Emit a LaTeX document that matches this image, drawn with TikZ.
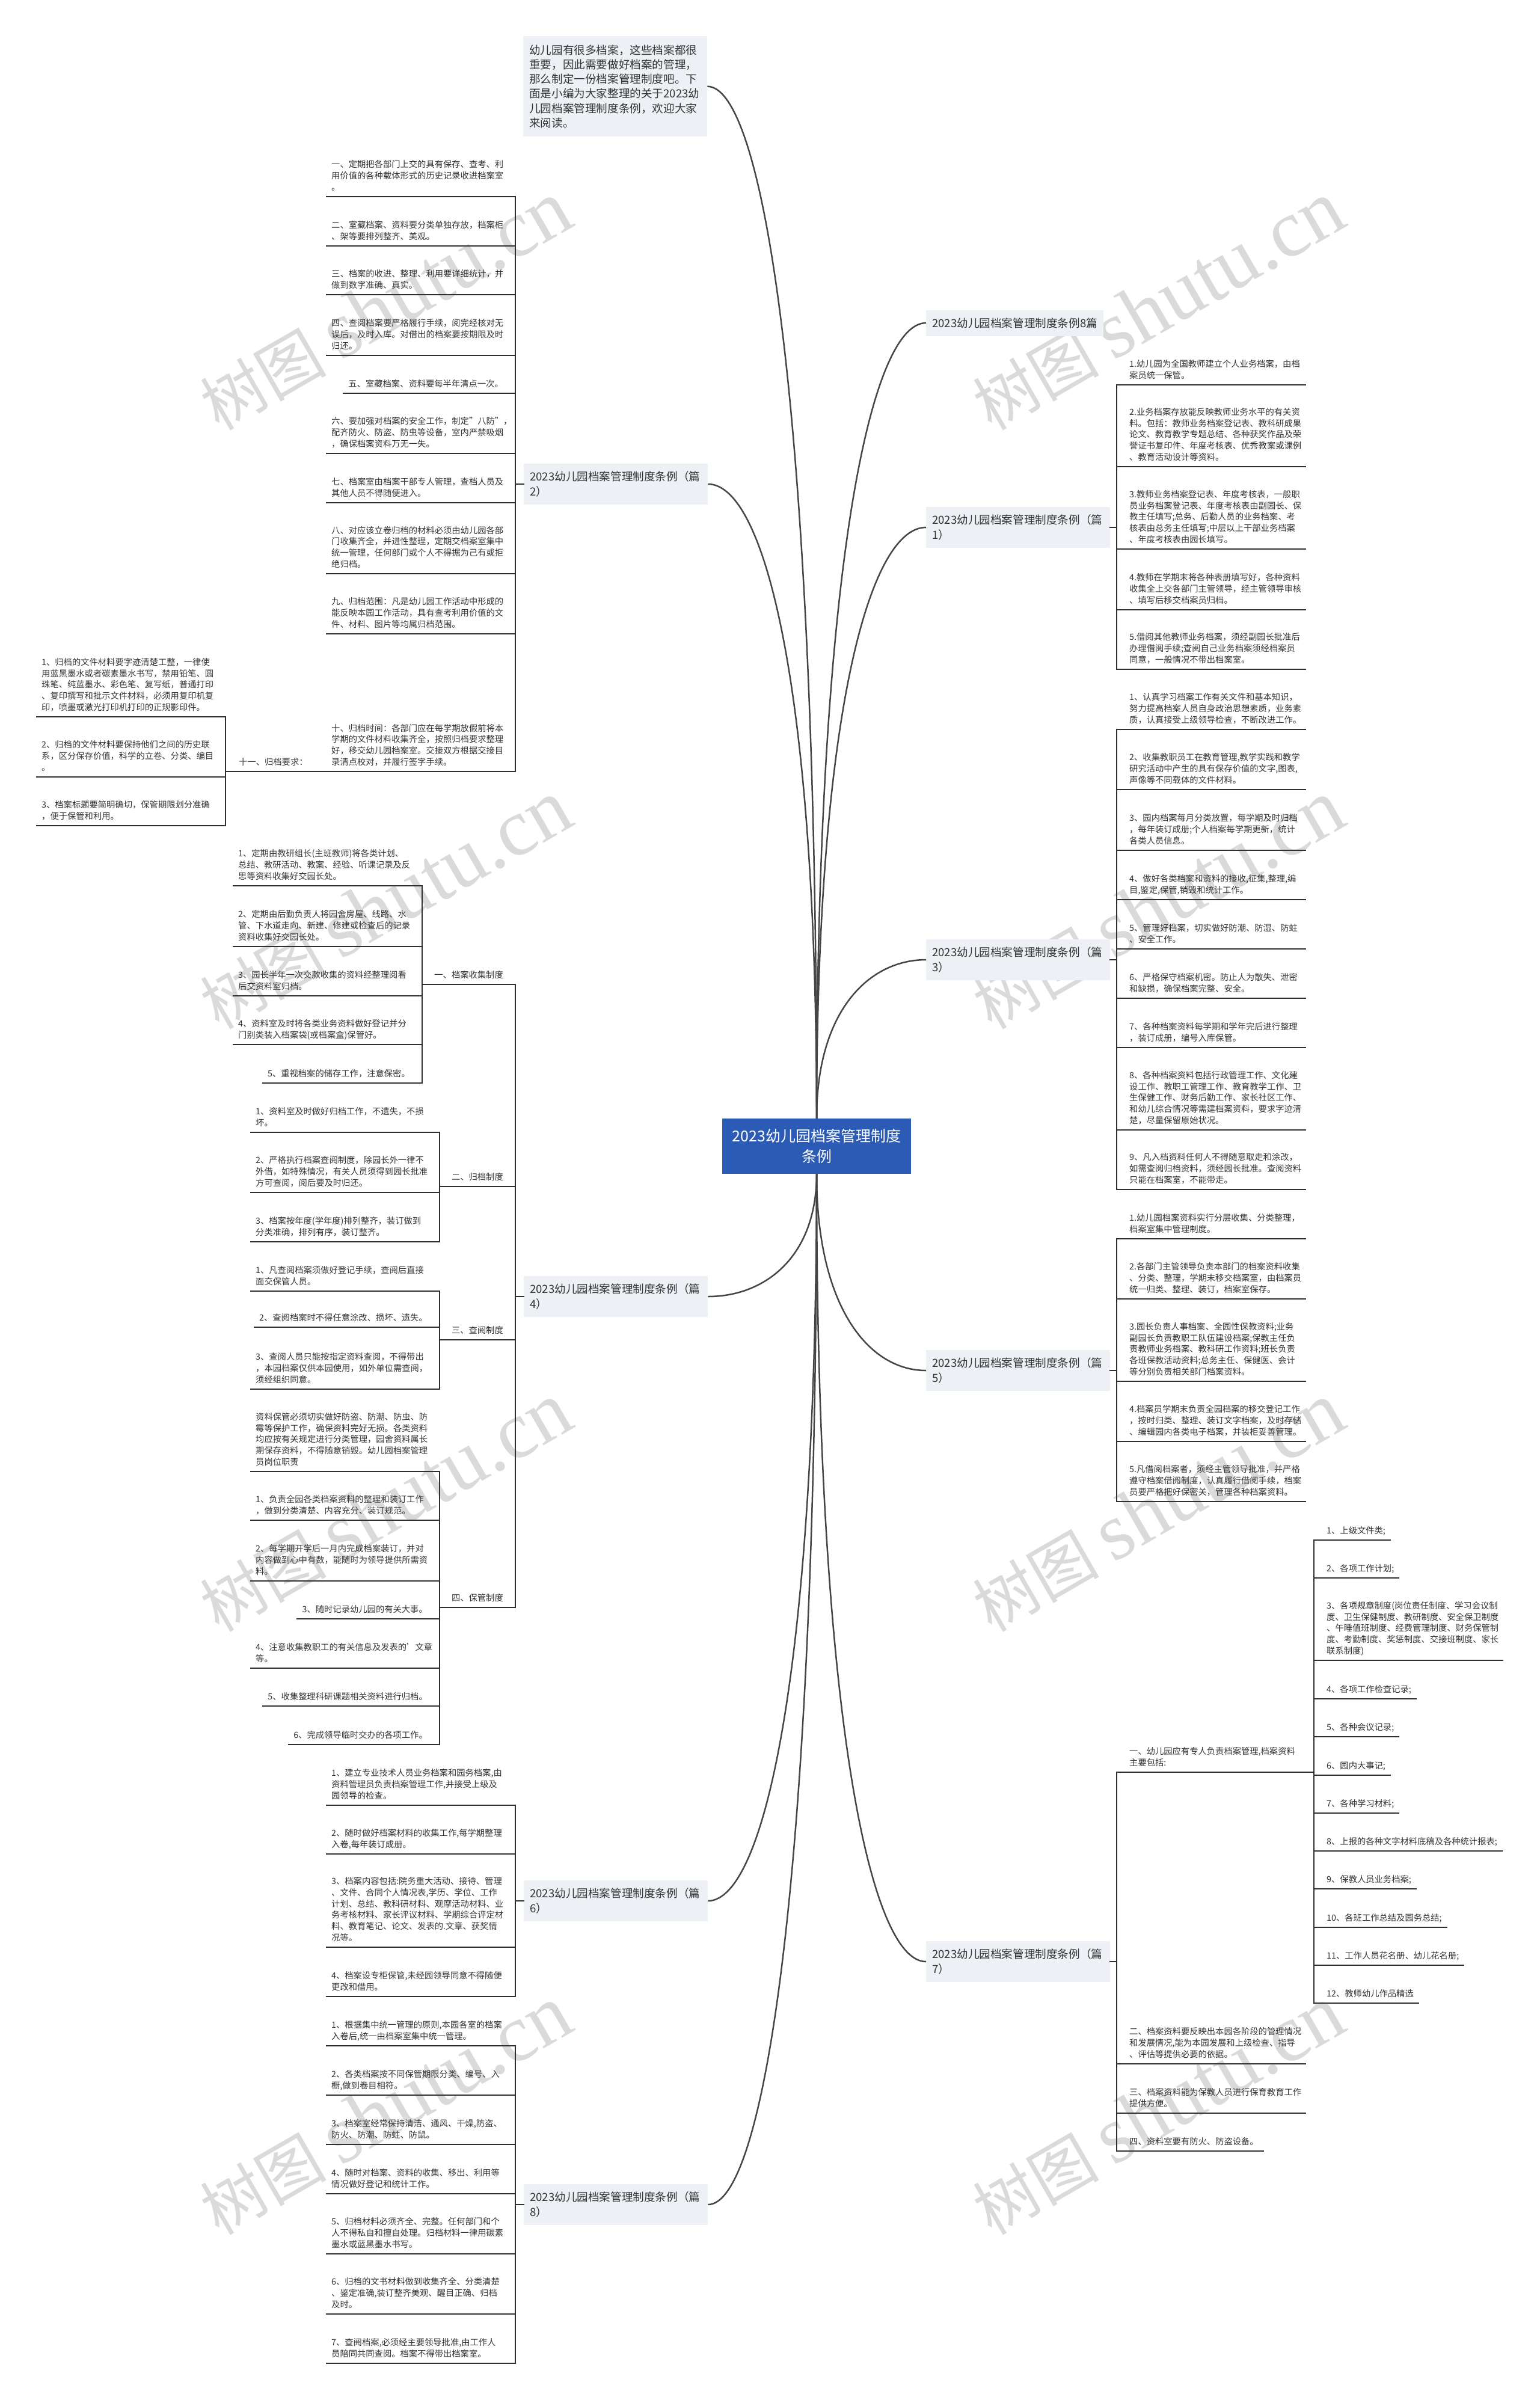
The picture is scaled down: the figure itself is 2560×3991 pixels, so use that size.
\documentclass[tikz,border=0pt]{standalone}
\usepackage{fontspec}
\setmainfont{Noto Sans CJK SC}
\newfontfamily\wmserif{Liberation Serif}
\usetikzlibrary{calc}
\definecolor{txt}{HTML}{333333}
\definecolor{lnc}{HTML}{303030}
\definecolor{crvc}{HTML}{454545}
\definecolor{lblfill}{HTML}{EDF0F4}
\definecolor{ctrfill}{HTML}{2C5BB5}
\definecolor{wmc}{HTML}{DADADA}
\newcommand\lst{\rule[-4.5pt]{0pt}{4.5pt}}
\tikzset{
  itm/.style={inner sep=0pt, align=left, text=txt, font=\fontsize{14.3}{18.7}\selectfont},
  ul/.style={draw=lnc, line width=2pt, line cap=rect},
  lbl/.style={fill=lblfill, inner xsep=10pt, inner ysep=0pt, minimum height=68pt, text width=286pt, align=left, text=txt, font=\fontsize{18.6}{24.5}\selectfont},
  lblone/.style={fill=lblfill, inner xsep=10pt, inner ysep=0pt, minimum height=43pt, text=txt, font=\fontsize{18.6}{24.5}\selectfont},
  ctr/.style={fill=ctrfill, text=white, minimum width=314pt, minimum height=92pt, inner sep=0pt, align=center, font=\fontsize{25}{34}\selectfont},
  crvline/.style={draw=crvc, line width=2.5pt},
  wmk/.style={text=wmc, inner sep=0pt, rotate=30, font=\fontsize{105}{105}\selectfont},
}
\newcommand\ItemLM[4]{%
  \node[itm,anchor=south west] (#1) at ({#2-306},{#3-6}) {#4\lst};
  \coordinate (#1j) at (#2,#3);
  \draw[ul] ([xshift=-8pt,yshift=-6pt]#1.south west) -- (#1j);}
\newcommand\ItemLS[4]{%
  \node[itm,anchor=south east] (#1) at ({#2-20},{#3-6}) {#4\lst};
  \coordinate (#1j) at (#2,#3);
  \draw[ul] ([xshift=-8pt,yshift=-6pt]#1.south west) -- (#1j);}
\newcommand\ItemRM[4]{%
  \node[itm,anchor=south west] (#1) at ({#2+21},{#3-6}) {#4\lst};
  \coordinate (#1j) at (#2,#3);
  \draw[ul] (#1j) -- ([xshift=293pt,yshift=-6pt]#1.south west);}
\newcommand\ItemRS[4]{%
  \node[itm,anchor=south west] (#1) at ({#2+21},{#3-6}) {#4\lst};
  \coordinate (#1j) at (#2,#3);
  \draw[ul] (#1j) -- ([xshift=8pt,yshift=-6pt]#1.south east);}
\newcommand\SubHead[5]{%
  \node[itm,anchor=south east] (#1) at ({#5-20},{#3-6}) {#4\lst};
  \coordinate (#1s) at (#2,#3);
  \coordinate (#1j) at (#5,#3);
  \draw[ul] (#1s) -- (#1j);}
\newcommand\bcurve[2]{\draw[crvline] (#1) .. controls ($(#1)!0.68!(#1|-#2)$) and ($(#2)!0.52!(#2-|#1)$) .. (#2);}

\begin{document}
\begin{tikzpicture}[x=1pt,y=-1pt]
\fill[white] (0,0) rectangle (2560,3991);
\useasboundingbox (0,0) rectangle (2560,3991);

% watermarks
\foreach \i/\xx/\yy in {1/641/509,2/1926/509,3/641/1505,4/1926/1505,5/641/2507,6/1926/2507,7/641/3510,8/1926/3510}{
  \node[wmk] (wm\i) at (\xx,\yy) {树图 {\wmserif\fontsize{135}{135}\selectfont shutu.cn}};
}

% center
\node[ctr] (c) at (1358,1906) {2023幼儿园档案管理制度\\条例};

% branch labels
\node[lbl, anchor=north west, minimum height=167pt, font=\fontsize{18.6}{24.3}\selectfont] (intro) at (870,60) {幼儿园有很多档案，这些档案都很\\重要，因此需要做好档案的管理，\\那么制定一份档案管理制度吧。下\\面是小编为大家整理的关于2023幼\\儿园档案管理制度条例，欢迎大家\\来阅读。};
\node[lblone, anchor=west] (b8p) at (1540,537) {2023幼儿园档案管理制度条例8篇};
\node[lbl, anchor=west] (b1) at (1540,877) {2023幼儿园档案管理制度条例（篇\\1）};
\node[lbl, anchor=west] (b2) at (871,805) {2023幼儿园档案管理制度条例（篇\\2）};
\node[lbl, anchor=west] (b3) at (1540,1596) {2023幼儿园档案管理制度条例（篇\\3）};
\node[lbl, anchor=west] (b4) at (871,2156) {2023幼儿园档案管理制度条例（篇\\4）};
\node[lbl, anchor=west] (b5) at (1540,2279) {2023幼儿园档案管理制度条例（篇\\5）};
\node[lbl, anchor=west] (b6) at (871,3161) {2023幼儿园档案管理制度条例（篇\\6）};
\node[lbl, anchor=west] (b7) at (1540,3262) {2023幼儿园档案管理制度条例（篇\\7）};
\node[lbl, anchor=west] (b8) at (871,3666) {2023幼儿园档案管理制度条例（篇\\8）};

% curves from center
\bcurve{c.north}{intro.east}
\bcurve{c.north}{b8p.west}
\bcurve{c.north}{b2.east}
\bcurve{c.north}{b1.west}
\bcurve{c.north}{b3.west}
\bcurve{c.south}{b4.east}
\bcurve{c.south}{b5.west}
\bcurve{c.south}{b6.east}
\bcurve{c.south}{b7.west}
\bcurve{c.south}{b8.east}

% ===== branch 2 (left) =====
\ItemLM{a1}{857}{327}{一、定期把各部门上交的具有保存、查考、利\\用价值的各种载体形式的历史记录收进档案室\\。}
\ItemLM{a2}{857}{409}{二、室藏档案、资料要分类单独存放，档案柜\\、架等要排列整齐、美观。}
\ItemLM{a3}{857}{490}{三、档案的收进、整理、利用要详细统计，并\\做到数字准确、真实。}
\ItemLM{a4}{857}{591}{四、查阅档案要严格履行手续，阅完经核对无\\误后，及时入库。对借出的档案要按期限及时\\归还。}
\ItemLS{a5}{857}{654}{五、室藏档案、资料要每半年清点一次。}
\ItemLM{a6}{857}{754}{六、要加强对档案的安全工作，制定"八防"，\\配齐防火、防盗、防虫等设备，室内严禁吸烟\\，确保档案资料万无一失。}
\ItemLM{a7}{857}{836}{七、档案室由档案干部专人管理，查档人员及\\其他人员不得随便进入。}
\ItemLM{a8}{857}{954}{八、对应该立卷归档的材料必须由幼儿园各部\\门收集齐全，并进性整理，定期交档案室集中\\统一管理，任何部门或个人不得据为己有或拒\\绝归档。}
\ItemLM{a9}{857}{1054}{九、归档范围：凡是幼儿园工作活动中形成的\\能反映本园工作活动，具有查考利用价值的文\\件、材料、图片等均属归档范围。}
\ItemLM{a10}{857}{1283}{十、归档时间：各部门应在每学期放假前将本\\学期的文件材料收集齐全，按照归档要求整理\\好，移交幼儿园档案室。交接双方根据交接目\\录清点校对，并履行签字手续。}
\node[itm,anchor=south west] (a11) at (397,1277) {十一、归档要求：\lst};
\coordinate (a11s) at (375,1283);
\coordinate (a11j) at (857,1283);
\draw[ul] (a11s) -- (a11j);
\ItemLM{a11a}{375}{1192}{1、归档的文件材料要字迹清楚工整，一律使\\用蓝黑墨水或者碳素墨水书写，禁用铅笔、圆\\珠笔、纯蓝墨水、彩色笔、复写纸，普通打印\\、复印撰写和批示文件材料，必须用复印机复\\印，喷墨或激光打印机打印的正规影印件。}
\ItemLM{a11b}{375}{1292}{2、归档的文件材料要保持他们之间的历史联\\系，区分保存价值，科学的立卷、分类、编目\\。}
\ItemLM{a11c}{375}{1373}{3、档案标题要简明确切，保管期限划分准确\\，便于保管和利用。}
\draw[ul] (a11aj) -- (a11cj);
\draw[ul] (a1j) -- (a10j);
\coordinate (b2m) at (857,805);
\draw[ul] (b2m) -- (b2.west);

% ===== branch 4 (left) =====
\SubHead{d1}{702}{1637}{一、档案收集制度}{857}
\ItemLM{d1a}{702}{1473}{1、定期由教研组长(主班教师)将各类计划、\\总结、教研活动、教案、经验、听课记录及反\\思等资料收集好交园长处。}
\ItemLM{d1b}{702}{1574}{2、定期由后勤负责人将园舍房屋、线路、水\\管、下水道走向、新建、修建或检查后的记录\\资料收集好交园长处。}
\ItemLM{d1c}{702}{1656}{3、园长半年一次交款收集的资料经整理阅看\\后交资料室归档。}
\ItemLM{d1d}{702}{1737}{4、资料室及时将各类业务资料做好登记并分\\门别类装入档案袋(或档案盒)保管好。}
\ItemLS{d1e}{702}{1801}{5、重视档案的储存工作，注意保密。}
\draw[ul] (d1aj) -- (d1ej);
\SubHead{d2}{731}{1973}{二、归档制度}{857}
\ItemLM{d2a}{731}{1883}{1、资料室及时做好归档工作，不遗失，不损\\坏。}
\ItemLM{d2b}{731}{1983}{2、严格执行档案查阅制度，除园长外一律不\\外借，如特殊情况，有关人员须得到园长批准\\方可查阅，阅后要及时归还。}
\ItemLM{d2c}{731}{2065}{3、档案按年度(学年度)排列整齐，装订做到\\分类准确，排列有序，装订整齐。}
\draw[ul] (d2aj) -- (d2cj);
\SubHead{d3}{731}{2228}{三、查阅制度}{857}
\ItemLM{d3a}{731}{2147}{1、凡查阅档案须做好登记手续，查阅后直接\\面交保管人员。}
\ItemLS{d3b}{731}{2207}{2、查阅档案时不得任意涂改、损坏、遗失。}
\ItemLM{d3c}{731}{2310}{3、查阅人员只能按指定资料查阅，不得带出\\，本园档案仅供本园使用，如外单位需查阅，\\须经组织同意。}
\draw[ul] (d3aj) -- (d3cj);
\SubHead{d4}{731}{2673}{四、保管制度}{857}
\ItemLM{d4a}{731}{2447}{资料保管必须切实做好防盗、防潮、防虫、防\\霉等保护工作，确保资料完好无损。各类资料\\均应按有关规定进行分类管理，园舍资料属长\\期保存资料，不得随意销毁。幼儿园档案管理\\员岗位职责}
\ItemLM{d4b}{731}{2528}{1、负责全园各类档案资料的整理和装订工作\\，做到分类清楚、内容充分、装订规范。}
\ItemLM{d4c}{731}{2629}{2、每学期开学后一月内完成档案装订，并对\\内容做到心中有数，能随时为领导提供所需资\\料。}
\ItemLS{d4d}{731}{2692}{3、随时记录幼儿园的有关大事。}
\ItemLM{d4e}{731}{2774}{4、注意收集教职工的有关信息及发表的'文章\\等。}
\ItemLS{d4f}{731}{2837}{5、收集整理科研课题相关资料进行归档。}
\ItemLS{d4g}{731}{2901}{6、完成领导临时交办的各项工作。}
\draw[ul] (d4aj) -- (d4gj);
\draw[ul] (d1j) -- (d4j);
\coordinate (b4m) at (857,2156);
\draw[ul] (b4m) -- (b4.west);

% ===== branch 6 (left) =====
\ItemLM{f1}{857}{3002}{1、建立专业技术人员业务档案和园务档案,由\\资料管理员负责档案管理工作,并接受上级及\\园领导的检查。}
\ItemLM{f2}{857}{3083}{2、随时做好档案材料的收集工作,每学期整理\\入卷,每年装订成册。}
\ItemLM{f3}{857}{3238}{3、档案内容包括:院务重大活动、接待、管理\\、文件、合同个人情况表,学历、学位、工作\\计划、总结、教科研材料、观摩活动材料、业\\务考核材料、家长评议材料、学期综合评定材\\料、教育笔记、论文、发表的.文章、获奖情\\况等。}
\ItemLM{f4}{857}{3320}{4、档案设专柜保管,未经园领导同意不得随便\\更改和借用。}
\draw[ul] (f1j) -- (f4j);
\coordinate (b6m) at (857,3161);
\draw[ul] (b6m) -- (b6.west);

% ===== branch 8 (left) =====
\ItemLM{h1}{857}{3402}{1、根据集中统一管理的原则,本园各室的档案\\入卷后,统一由档案室集中统一管理。}
\ItemLM{h2}{857}{3484}{2、各类档案按不同保管期限分类、编号、入\\橱,做到卷目相符。}
\ItemLM{h3}{857}{3566}{3、档案室经常保持清洁、通风、干燥,防盗、\\防火、防潮、防蛀、防鼠。}
\ItemLM{h4}{857}{3648}{4、随时对档案、资料的收集、移出、利用等\\情况做好登记和统计工作。}
\ItemLM{h5}{857}{3748}{5、归档材料必须齐全、完整。任何部门和个\\人不得私自和擅自处理。归档材料一律用碳素\\墨水或蓝黑墨水书写。}
\ItemLM{h6}{857}{3848}{6、归档的文书材料做到收集齐全、分类清楚\\、鉴定准确,装订整齐美观、醒目正确、归档\\及时。}
\ItemLM{h7}{857}{3930}{7、查阅档案,必须经主要领导批准,由工作人\\员陪同共同查阅。档案不得带出档案室。}
\draw[ul] (h1j) -- (h7j);
\coordinate (b8m) at (857,3666);
\draw[ul] (b8m) -- (b8.west);

% ===== branch 1 (right) =====
\ItemRM{g1}{1857}{640}{1.幼儿园为全国教师建立个人业务档案，由档\\案员统一保管。}
\ItemRM{g2}{1857}{776}{2.业务档案存放能反映教师业务水平的有关资\\料。包括：教师业务档案登记表、教科研成果\\论文、教育教学专题总结、各种获奖作品及荣\\誉证书复印件、年度考核表、优秀教案或课例\\、教育活动设计等资料。}
\ItemRM{g3}{1857}{913}{3.教师业务档案登记表、年度考核表，一般职\\员业务档案登记表、年度考核表由副园长、保\\教主任填写;总务、后勤人员的业务档案、考\\核表由总务主任填写;中层以上干部业务档案\\、年度考核表由园长填写。}
\ItemRM{g4}{1857}{1014}{4.教师在学期末将各种表册填写好，各种资料\\收集全上交各部门主管领导，经主管领导审核\\、填写后移交档案员归档。}
\ItemRM{g5}{1857}{1113}{5.借阅其他教师业务档案，须经副园长批准后\\办理借阅手续;查阅自己业务档案须经档案员\\同意，一般情况不带出档案室。}
\draw[ul] (g1j) -- (g5j);
\coordinate (b1m) at (1857,877);
\draw[ul] (b1.east) -- (b1m);

% ===== branch 3 (right) =====
\ItemRM{k1}{1857}{1213}{1、认真学习档案工作有关文件和基本知识，\\努力提高档案人员自身政治思想素质，业务素\\质，认真接受上级领导检查，不断改进工作。}
\ItemRM{k2}{1857}{1313}{2、收集教职员工在教育管理,教学实践和教学\\研究活动中产生的具有保存价值的文字,图表,\\声像等不同载体的文件材料。}
\ItemRM{k3}{1857}{1414}{3、园内档案每月分类放置，每学期及时归档\\，每年装订成册;个人档案每学期更新，统计\\各类人员信息。}
\ItemRM{k4}{1857}{1496}{4、做好各类档案和资料的接收,征集,整理,编\\目,鉴定,保管,销毁和统计工作。}
\ItemRM{k5}{1857}{1578}{5、管理好档案，切实做好防潮、防湿、防蛀\\、安全工作。}
\ItemRM{k6}{1857}{1660}{6、严格保守档案机密。防止人为散失、泄密\\和缺损，确保档案完整、安全。}
\ItemRM{k7}{1857}{1742}{7、各种档案资料每学期和学年完后进行整理\\，装订成册，编号入库保管。}
\ItemRM{k8}{1857}{1879}{8、各种档案资料包括行政管理工作、文化建\\设工作、教职工管理工作、教育教学工作、卫\\生保健工作、财务后勤工作、家长社区工作、\\和幼儿综合情况等需建档案资料，要求字迹清\\楚，尽量保留原始状况。}
\ItemRM{k9}{1857}{1978}{9、凡入档资料任何人不得随意取走和涂改，\\如需查阅归档资料，须经园长批准。查阅资料\\只能在档案室，不能带走。}
\draw[ul] (k1j) -- (k9j);
\coordinate (b3m) at (1857,1596);
\draw[ul] (b3.east) -- (b3m);

% ===== branch 5 (right) =====
\ItemRM{m1}{1857}{2060}{1.幼儿园档案资料实行分层收集、分类整理，\\档案室集中管理制度。}
\ItemRM{m2}{1857}{2160}{2.各部门主管领导负责本部门的档案资料收集\\、分类、整理，学期末移交档案室，由档案员\\统一归类、整理、装订，档案室保存。}
\ItemRM{m3}{1857}{2297}{3.园长负责人事档案、全园性保教资料;业务\\副园长负责教职工队伍建设档案;保教主任负\\责教师业务档案、教科研工作资料;班长负责\\各班保教活动资料;总务主任、保健医、会计\\等分别负责相关部门档案资料。}
\ItemRM{m4}{1857}{2397}{4.档案员学期末负责全园档案的移交登记工作\\，按时归类、整理、装订文字档案，及时存储\\、编辑园内各类电子档案，并装柜妥善管理。}
\ItemRM{m5}{1857}{2497}{5.凡借阅档案者，须经主管领导批准，并严格\\遵守档案借阅制度，认真履行借阅手续，档案\\员要严格把好保密关，管理各种档案资料。}
\draw[ul] (m1j) -- (m5j);
\coordinate (b5m) at (1857,2279);
\draw[ul] (b5.east) -- (b5m);

% ===== branch 7 (right) =====
\node[itm,anchor=south west] (n1) at (1878,2941) {一、幼儿园应有专人负责档案管理,档案资料\\主要包括:\lst};
\coordinate (n1j) at (1857,2947);
\coordinate (n1s) at (2185,2947);
\draw[ul] (n1j) -- (n1s);
\ItemRS{s1}{2185}{2561}{1、上级文件类;}
\ItemRS{s2}{2185}{2624}{2、各项工作计划;}
\ItemRM{s3}{2185}{2761}{3、各项规章制度(岗位责任制度、学习会议制\\度、卫生保健制度、教研制度、安全保卫制度\\、午睡值班制度、经费管理制度、财务保管制\\度、考勤制度、奖惩制度、交接班制度、家长\\联系制度)}
\ItemRS{s4}{2185}{2825}{4、各项工作检查记录;}
\ItemRS{s5}{2185}{2888}{5、各种会议记录;}
\ItemRS{s6}{2185}{2952}{6、园内大事记;}
\ItemRS{s7}{2185}{3015}{7、各种学习材料;}
\ItemRS{s8}{2185}{3078}{8、上报的各种文字材料底稿及各种统计报表;}
\ItemRS{s9}{2185}{3141}{9、保教人员业务档案;}
\ItemRS{s10}{2185}{3205}{10、各班工作总结及园务总结;}
\ItemRS{s11}{2185}{3268}{11、工作人员花名册、幼儿花名册;}
\ItemRS{s12}{2185}{3331}{12、教师幼儿作品精选}
\draw[ul] (s1j) -- (s12j);
\ItemRM{n2}{1857}{3432}{二、档案资料要反映出本园各阶段的管理情况\\和发展情况,能为本园发展和上级检查、指导\\、评估等提供必要的依据。}
\ItemRM{n3}{1857}{3514}{三、档案资料能为保教人员进行保育教育工作\\提供方便。}
\ItemRS{n4}{1857}{3577}{四、资料室要有防火、防盗设备。}
\draw[ul] (n1j) -- (n4j);
\coordinate (b7m) at (1857,3262);
\draw[ul] (b7.east) -- (b7m);
\end{tikzpicture}
\end{document}
